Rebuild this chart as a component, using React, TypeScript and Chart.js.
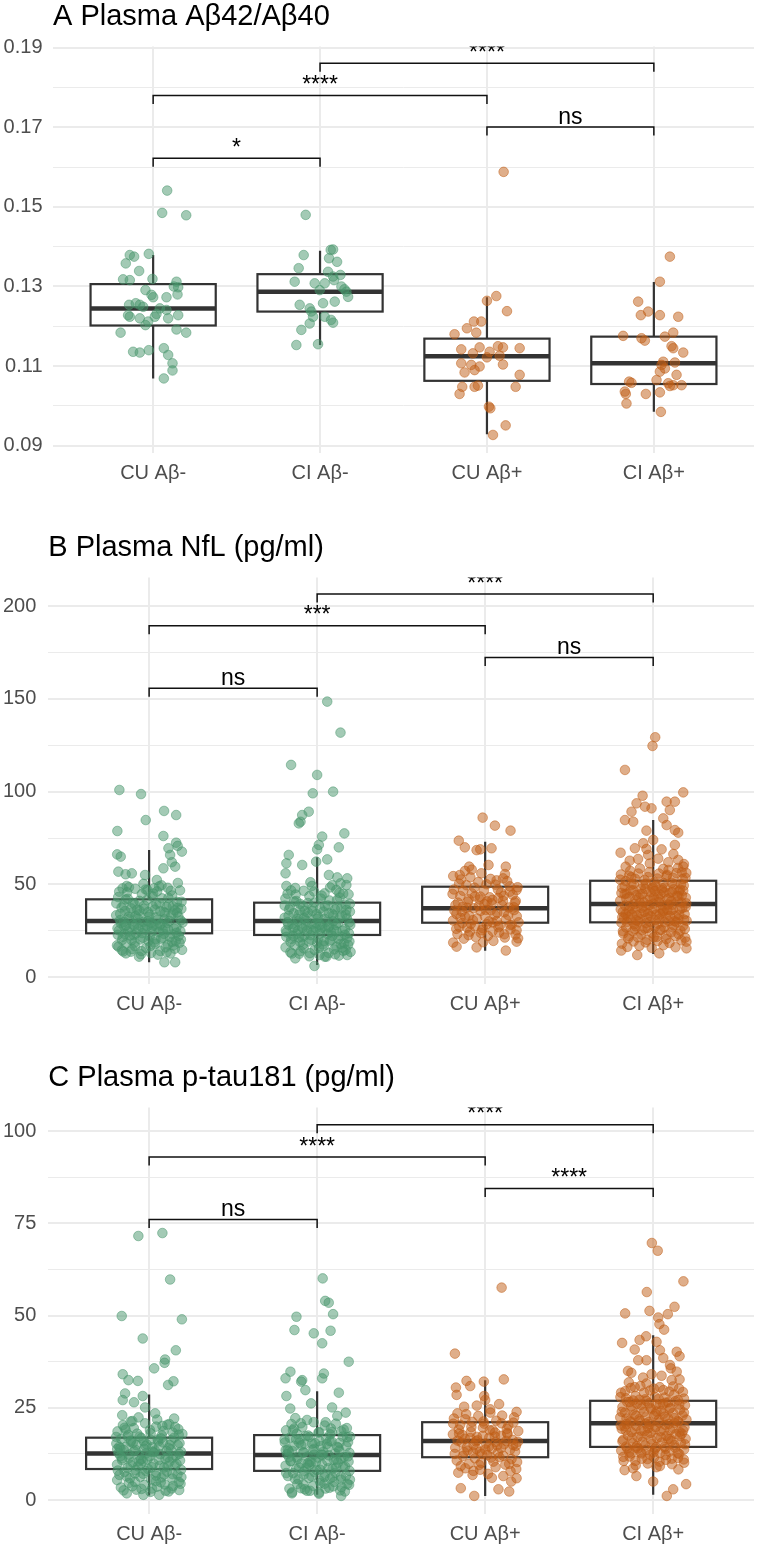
import React, { useEffect, useRef } from "react";
import { Chart, registerables } from "chart.js";
Chart.register(...registerables);

const FONT = "'Liberation Sans', Arial, Helvetica, sans-serif";

// ---------- shared ----------
const categories = ["CU Aβ-", "CI Aβ-", "CU Aβ+", "CI Aβ+"];
const GREEN = [72, 150, 108];
const ORANGE = [192, 94, 22];
const groupColors = [GREEN, GREEN, ORANGE, ORANGE];

// ---------- Panel A : Aβ42/Aβ40 ----------
const titleA = "A Plasma Aβ42/Aβ40";
const yRangeA = [0.088166, 0.1903];
const yMajorA = [0.09, 0.11, 0.13, 0.15, 0.17, 0.19];
const yLabelsA = ["0.09", "0.11", "0.13", "0.15", "0.17", "0.19"];
const yMinorA = [0.1, 0.12, 0.14, 0.16, 0.18];
// [lower whisker, q1, median, q3, upper whisker]
const boxA = [
  [0.1069, 0.1202, 0.1245, 0.1306, 0.1379],
  [0.1153, 0.1237, 0.1287, 0.1331, 0.139],
  [0.0929, 0.1063, 0.1125, 0.1169, 0.1273],
  [0.0985, 0.1055, 0.1107, 0.1174, 0.1311],
];
const bracketsA: [number, number, number, string][] = [
  [1, 2, 0.1622, "*"],
  [1, 3, 0.178, "****"],
  [2, 4, 0.1861, "****"],
  [3, 4, 0.1701, "ns"],
];
const aCUneg = [[0.084,0.1541],[0.054,0.1485],[0.198,0.1479],[-0.14,0.1379],[-0.114,0.1375],[-0.164,0.1358],[-0.026,0.1382],[-0.084,0.1339],[-0.18,0.1318],[-0.14,0.1316],[-0.004,0.1319],[-0.046,0.1291],[-0.01,0.1279],[0.0,0.1273],[0.14,0.1312],[0.15,0.1298],[0.124,0.13],[0.146,0.128],[0.08,0.1273],[-0.144,0.1254],[-0.104,0.1258],[-0.08,0.1254],[-0.06,0.1249],[-0.15,0.1228],[-0.14,0.1224],[-0.08,0.122],[-0.046,0.1203],[-0.03,0.1212],[0.01,0.1224],[0.02,0.1231],[0.04,0.1245],[0.08,0.1241],[0.09,0.122],[0.15,0.1228],[0.14,0.1192],[0.198,0.1184],[-0.195,0.1184],[-0.12,0.1136],[-0.08,0.1134],[-0.026,0.114],[0.064,0.1145],[0.09,0.1128],[0.116,0.1107],[0.116,0.1089],[0.064,0.1069]];
const aCIneg = [[-0.086,0.148],[-0.098,0.1379],[-0.128,0.1346],[-0.152,0.1312],[-0.032,0.1308],[-0.002,0.1291],[0.028,0.1308],[0.064,0.1392],[0.078,0.1393],[0.054,0.1371],[0.102,0.1362],[0.048,0.1337],[0.078,0.1325],[0.122,0.1329],[0.084,0.1316],[0.128,0.13],[0.158,0.1287],[0.168,0.1274],[0.146,0.1293],[-0.122,0.1254],[-0.062,0.1245],[-0.052,0.1237],[0.018,0.1258],[0.088,0.1262],[-0.042,0.1224],[0.028,0.1224],[0.066,0.1216],[0.078,0.1209],[-0.062,0.1207],[-0.112,0.1191],[-0.142,0.1153],[-0.012,0.1155]];
const aCUpos = [[0.1,0.1588],[0.056,0.1276],[0.0,0.1264],[0.12,0.1238],[-0.12,0.1195],[-0.078,0.1212],[-0.034,0.1212],[-0.064,0.1184],[-0.194,0.118],[-0.154,0.1142],[-0.044,0.1147],[0.016,0.1136],[0.066,0.115],[0.096,0.1147],[0.196,0.1145],[-0.084,0.1132],[0.0,0.1122],[0.076,0.1126],[-0.154,0.1107],[-0.094,0.1103],[-0.044,0.1099],[0.096,0.1104],[-0.134,0.1084],[-0.074,0.109],[0.196,0.1078],[-0.148,0.1048],[-0.074,0.1048],[-0.054,0.1051],[0.172,0.1048],[-0.164,0.103],[0.012,0.0998],[0.02,0.0994],[0.112,0.0951],[0.036,0.0927]];
const aCIpos = [[0.096,0.1375],[0.036,0.1312],[-0.094,0.1262],[-0.078,0.1228],[-0.034,0.1237],[0.036,0.1228],[0.146,0.1224],[-0.184,0.1176],[-0.074,0.117],[-0.054,0.1164],[0.066,0.1174],[0.116,0.1184],[0.106,0.115],[0.116,0.1145],[0.176,0.1134],[0.056,0.1111],[0.046,0.1103],[0.066,0.1094],[0.126,0.1109],[0.036,0.1086],[0.136,0.1078],[-0.148,0.1061],[-0.134,0.1058],[-0.174,0.1036],[-0.168,0.103],[-0.164,0.1006],[-0.048,0.103],[0.036,0.1034],[0.016,0.1065],[0.086,0.1057],[0.116,0.1052],[0.166,0.1052],[0.096,0.105],[0.042,0.0985]];

// ---------- Panel B : NfL ----------
const titleB = "B Plasma NfL (pg/ml)";
const yRangeB = [-3.61, 215.35];
const yMajorB = [0, 50, 100, 150, 200];
const yLabelsB = ["0", "50", "100", "150", "200"];
const yMinorB = [25, 75, 125, 175];
const boxB = [
  [8.1, 23.7, 30.3, 42.0, 68.6],
  [6.6, 22.8, 30.3, 40.2, 64.6],
  [14.3, 29.4, 37.2, 48.8, 73.0],
  [12.6, 29.6, 39.5, 52.0, 84.7],
];
const bracketsB: [number, number, number, string][] = [
  [1, 2, 155.7, "ns"],
  [1, 3, 189.4, "***"],
  [2, 4, 206.5, "****"],
  [3, 4, 172.2, "ns"],
];
const bCUneg = [[-0.177,100.9],[-0.048,98.7],[-0.02,84.7],[0.089,89.6],[0.161,87.4],[-0.189,78.8],[0.085,76.1],[-0.19,66.2],[-0.169,65.0],[0.161,72.5],[0.115,69.5],[0.195,67.7],[0.125,65.9],[0.085,58.7],[0.155,59.6],[-0.183,56.9],[-0.103,56.0],[-0.024,55.1],[0.046,52.4],[0.091,8.1],[0.155,8.1],[-0.183,16.5],[-0.138,12.9],[-0.06,11.1],[0.135,62.0],[0.17,70.8],[-0.14,55.5],[0.06,49.0],[0.03,48.0],[-0.01,47.0],[-0.12,48.5],
[-0.184,43.2],[-0.152,38.7],[-0.131,45.8],[-0.097,40.1],[-0.071,36.4],[-0.043,44.9],[-0.012,41.7],[0.021,38.2],[0.048,46.3],[0.077,42.5],[0.103,37.8],[0.137,44.1],[0.166,40.6],[0.192,36.9],
[-0.196,33.4],[-0.168,29.1],[-0.143,35.7],[-0.118,31.2],[-0.089,27.6],[-0.062,33.9],[-0.034,29.8],[-0.007,35.1],[0.016,26.9],[0.041,32.3],[0.069,28.7],[0.094,34.6],[0.121,30.4],[0.148,26.2],[0.174,32.8],[0.199,29.5],
[-0.179,25.3],[-0.157,21.8],[-0.126,24.7],[-0.104,19.9],[-0.078,23.6],[-0.052,20.4],[-0.026,25.9],[0.004,22.1],[0.031,18.8],[0.057,24.3],[0.083,21.2],[0.112,17.6],[0.139,23.1],[0.158,19.4],[0.186,24.8],
[-0.191,17.2],[-0.162,14.6],[-0.135,18.3],[-0.109,13.8],[-0.083,16.7],[-0.049,12.4],[-0.018,15.8],[0.011,13.1],[0.037,17.9],[0.066,14.2],[0.098,16.1],[0.127,12.8],[0.153,15.4],[0.181,18.6],
[-0.173,30.8],[-0.148,27.3],[-0.121,32.6],[-0.094,28.4],[-0.066,31.5],[-0.038,26.7],[-0.009,30.2],[0.026,27.8],[0.053,31.1],[0.081,25.4],[0.108,29.3],[0.132,33.2],[0.163,27.1],[0.188,30.6],
[-0.164,37.6],[-0.139,41.9],[-0.113,34.8],[-0.086,39.3],[-0.057,35.9],[-0.029,38.6],[0.002,33.7],[0.034,36.5],[0.062,39.8],[0.089,35.2],[0.117,38.9],[0.144,34.3],[0.171,37.4],
[-0.186,22.9],[-0.146,23.4],[-0.092,22.6],[-0.041,23.8],[0.013,29.4],[0.072,20.8],[0.124,21.7],[0.176,22.3],[-0.118,26.1],[0.046,27.2],[-0.003,19.6],[0.097,26.8],[-0.069,28.9],[0.152,36.1],[-0.021,47.3],[0.111,48.2],[-0.158,47.9],[0.184,46.8],
[-0.195,39.8],[-0.172,34.2],[-0.149,29.9],[-0.127,42.3],[-0.106,37.1],[-0.081,33.0],[-0.058,41.2],[-0.031,36.8],[-0.004,32.5],[0.019,43.6],[0.043,39.4],[0.067,35.6],[0.092,31.2],[0.115,42.8],[0.141,38.3],[0.167,34.9],[0.193,40.7],
[-0.188,26.4],[-0.161,20.1],[-0.137,27.9],[-0.112,22.5],[-0.087,18.7],[-0.063,26.2],[-0.036,21.3],[-0.011,27.4],[0.015,24.6],[0.038,20.6],[0.064,28.1],[0.088,23.4],[0.113,25.7],[0.137,19.1],[0.163,24.0],[0.189,20.4],
[-0.178,46.1],[-0.133,49.2],[-0.083,47.7],[-0.034,50.3],[0.024,45.1],[0.074,49.5],[0.129,46.6],[0.171,50.8],[-0.154,13.9],[-0.101,15.2],[-0.046,14.1],[0.008,16.9],[0.052,12.2],[0.104,13.5],[0.144,17.1],[0.196,14.8]];
const bCIneg = [[-0.155,114.4],[0.0,109.0],[-0.026,99.1],[0.095,100.0],[-0.05,89.2],[-0.089,87.4],[-0.099,83.8],[-0.109,82.9],[0.03,75.8],[0.162,77.5],[0.129,70.0],[0.01,71.3],[0.0,68.9],[-0.169,65.9],[-0.183,61.4],[-0.089,60.5],[0.06,63.5],[-0.006,62.3],[-0.188,56.0],[-0.183,49.2],[0.179,53.3],[0.139,50.6],[0.07,55.1],[0.06,148.5],[0.139,131.8],[-0.016,6.1],[-0.13,10.2],[0.179,12.0],[0.17,14.7],[0.045,11.1],[0.12,53.8],[0.09,49.6],[-0.04,51.2],
[-0.189,42.4],[-0.161,37.9],[-0.128,44.6],[-0.101,39.5],[-0.074,35.8],[-0.046,43.7],[-0.015,40.3],[0.018,37.1],[0.044,45.2],[0.073,41.4],[0.106,36.6],[0.134,43.0],[0.169,39.2],[0.195,35.4],
[-0.193,32.1],[-0.171,28.3],[-0.14,34.5],[-0.115,30.1],[-0.087,26.4],[-0.059,32.8],[-0.031,28.5],[-0.004,34.0],[0.019,25.8],[0.044,31.4],[0.071,27.5],[0.097,33.3],[0.124,29.2],[0.151,25.1],[0.177,31.7],[0.197,28.2],
[-0.182,24.2],[-0.154,20.7],[-0.123,23.5],[-0.101,18.9],[-0.075,22.4],[-0.049,19.3],[-0.023,24.8],[0.007,21.0],[0.034,17.7],[0.06,23.2],[0.086,20.1],[0.115,16.5],[0.142,22.0],[0.161,18.3],[0.189,23.7],
[-0.188,16.1],[-0.159,13.5],[-0.132,17.2],[-0.106,12.7],[-0.08,15.6],[-0.046,11.3],[-0.015,14.7],[0.014,12.0],[0.04,16.8],[0.069,13.1],[0.101,15.0],[0.13,11.7],[0.156,14.3],[0.184,17.5],
[-0.176,29.7],[-0.145,26.2],[-0.118,31.5],[-0.091,27.3],[-0.063,30.4],[-0.035,25.6],[-0.006,29.1],[0.029,26.7],[0.056,30.0],[0.084,24.3],[0.111,28.2],[0.135,32.1],[0.166,26.0],[0.191,29.5],
[-0.167,36.5],[-0.136,40.8],[-0.11,33.7],[-0.083,38.2],[-0.054,34.8],[-0.026,37.5],[0.005,32.6],[0.037,35.4],[0.065,38.7],[0.092,34.1],[0.12,37.8],[0.147,33.2],[0.174,36.3],
[-0.183,21.8],[-0.143,22.3],[-0.089,21.5],[-0.038,22.7],[0.016,28.3],[0.075,19.7],[0.127,20.6],[0.179,21.2],[-0.115,25.0],[0.049,26.1],[0.0,18.5],[0.1,25.7],[-0.066,27.8],[0.155,45.0],[-0.018,46.2],[0.114,47.1],[-0.155,46.8],[0.187,44.7],
[-0.193,38.6],[-0.17,33.1],[-0.147,28.8],[-0.124,41.1],[-0.103,36.0],[-0.078,31.9],[-0.055,40.0],[-0.028,35.7],[-0.001,31.4],[0.022,42.4],[0.046,38.3],[0.07,34.5],[0.095,30.1],[0.118,41.6],[0.144,37.2],[0.17,33.8],[0.195,39.6],
[-0.186,25.3],[-0.158,19.0],[-0.134,26.8],[-0.109,21.4],[-0.084,17.6],[-0.06,25.1],[-0.033,20.2],[-0.008,26.3],[0.018,23.5],[0.041,19.5],[0.067,27.0],[0.091,22.3],[0.116,24.6],[0.14,18.0],[0.166,22.9],[0.192,19.3],
[-0.176,45.0],[-0.13,48.1],[-0.08,46.6],[-0.031,49.2],[0.027,44.0],[0.077,48.4],[0.132,45.5],[0.174,49.7],[-0.151,12.8],[-0.098,14.1],[-0.043,13.0],[0.011,15.8],[0.055,11.1],[0.107,12.4],[0.147,16.0],[0.199,13.7]];
const bCUpos = [[-0.015,86.0],[0.058,81.7],[0.151,79.0],[-0.157,73.6],[-0.121,70.0],[-0.051,68.5],[0.038,69.5],[-0.029,68.9],[0.123,59.6],[-0.095,59.6],[-0.19,54.5],[-0.151,55.1],[-0.023,56.0],[0.107,53.3],[0.187,47.0],[-0.19,18.7],[-0.17,16.5],[-0.051,16.1],[0.123,14.4],[0.187,19.2],[0.196,21.0],[-0.08,58.0],[0.02,60.5],[-0.12,57.3],
[-0.186,47.3],[-0.148,43.8],[-0.112,49.6],[-0.079,45.2],[-0.041,51.3],[-0.008,46.7],[0.027,43.1],[0.061,49.9],[0.094,45.6],[0.131,51.8],[0.164,44.4],[0.193,48.5],
[-0.177,38.9],[-0.139,35.4],[-0.103,40.7],[-0.068,37.2],[-0.033,41.9],[0.004,36.3],[0.039,39.8],[0.072,34.7],[0.106,41.2],[0.142,37.6],[0.177,40.3],
[-0.191,30.6],[-0.154,27.2],[-0.118,32.4],[-0.085,28.8],[-0.049,31.7],[-0.014,26.5],[0.022,30.1],[0.057,33.6],[0.089,27.9],[0.124,31.2],[0.158,28.4],[0.188,32.9],
[-0.165,23.3],[-0.127,20.8],[-0.091,24.6],[-0.056,21.7],[-0.019,25.4],[0.016,22.3],[0.049,19.6],[0.083,24.1],[0.117,21.4],[0.151,25.8],[0.181,23.0],
[-0.171,34.1],[-0.133,38.0],[-0.096,33.2],[-0.061,43.6],[-0.027,35.8],[0.011,40.9],[0.045,29.5],[0.078,42.7],[0.113,35.0],[0.147,46.1],[-0.144,52.7],[0.068,52.2],[-0.004,39.4],[0.172,36.2],[-0.107,26.7],
[-0.194,44.9],[-0.162,40.2],[-0.131,46.6],[-0.098,42.0],[-0.064,48.3],[-0.029,43.5],[0.008,50.1],[0.043,41.7],[0.076,47.3],[0.11,43.9],[0.146,49.0],[0.182,41.1],
[-0.183,35.9],[-0.147,32.1],[-0.109,37.5],[-0.073,30.8],[-0.037,38.4],[-0.002,32.9],[0.033,36.1],[0.069,30.3],[0.101,38.8],[0.137,33.5],[0.171,37.7],[0.199,29.6],
[-0.172,26.1],[-0.136,29.2],[-0.099,22.7],[-0.062,27.4],[-0.026,23.9],[0.009,28.6],[0.044,24.9],[0.079,27.0],[0.114,23.2],[0.149,28.1],[0.187,25.3],
[-0.155,50.5],[-0.088,53.9],[0.032,53.0],[0.118,55.6],[-0.012,18.9]];
const bCIpos = [[-0.168,111.7],[0.179,99.6],[-0.063,97.8],[-0.099,93.7],[-0.049,91.9],[-0.01,91.0],[0.08,94.6],[0.129,94.6],[0.099,90.1],[-0.129,89.2],[-0.168,84.7],[-0.119,83.8],[0.06,85.6],[0.08,82.0],[0.129,79.3],[0.149,77.9],[-0.04,79.0],[0.0,74.0],[0.129,71.3],[-0.194,67.1],[-0.109,69.5],[-0.059,72.2],[0.05,68.9],[-0.03,65.9],[-0.164,59.6],[0.149,63.2],[0.179,59.6],[0.036,12.9],[-0.095,12.0],[-0.19,14.4],[0.198,15.6],[0.198,19.2],[0.012,129.3],[-0.004,124.6],[0.09,62.0],[-0.14,62.8],[0.17,56.5],[0.06,58.4],
[-0.192,55.4],[-0.163,51.8],[-0.137,57.3],[-0.108,53.1],[-0.079,58.6],[-0.051,52.4],[-0.023,56.7],[0.006,51.2],[0.034,55.9],[0.063,50.7],[0.091,57.8],[0.118,53.6],[0.147,58.9],[0.176,52.9],[0.197,56.2],
[-0.185,48.2],[-0.158,45.1],[-0.129,49.7],[-0.101,44.3],[-0.072,47.6],[-0.044,50.4],[-0.016,45.8],[0.013,49.1],[0.041,44.6],[0.069,48.4],[0.098,45.5],[0.126,50.1],[0.153,46.3],[0.182,49.4],
[-0.196,41.3],[-0.167,38.6],[-0.141,43.2],[-0.112,39.4],[-0.084,42.7],[-0.057,38.1],[-0.028,41.8],[0.001,39.7],[0.029,43.5],[0.057,38.8],[0.085,42.1],[0.114,39.1],[0.141,43.8],[0.169,40.2],[0.194,42.9],
[-0.181,35.2],[-0.152,32.7],[-0.124,36.9],[-0.095,33.4],[-0.067,37.3],[-0.039,32.1],[-0.011,35.6],[0.018,33.8],[0.046,37.0],[0.074,32.5],[0.103,35.9],[0.131,33.1],[0.159,36.6],[0.187,34.0],
[-0.189,29.4],[-0.161,26.8],[-0.133,30.9],[-0.104,27.5],[-0.076,31.2],[-0.048,26.3],[-0.02,29.8],[0.009,27.1],[0.037,31.6],[0.066,26.9],[0.094,30.3],[0.122,28.0],[0.15,31.4],[0.178,27.7],[0.199,30.5],
[-0.178,23.6],[-0.149,20.9],[-0.121,24.8],[-0.092,21.5],[-0.064,25.3],[-0.036,20.2],[-0.008,23.9],[0.021,21.8],[0.049,25.6],[0.078,20.6],[0.106,24.2],[0.134,22.1],[0.162,25.1],[0.19,21.3],
[-0.186,18.1],[-0.154,16.4],[-0.117,19.3],[-0.082,17.0],[-0.045,18.8],[-0.009,15.9],[0.026,19.6],[0.061,17.3],[0.097,18.5],[0.133,16.2],[0.168,19.9],
[-0.17,44.9],[-0.118,46.8],[-0.063,45.0],[-0.005,47.9],[0.052,46.9],[0.108,41.0],[0.16,47.2],[-0.146,35.9],[-0.088,30.1],[-0.03,34.4],[0.027,28.9],[0.084,36.3],[0.14,29.7],[0.193,37.8],[-0.174,31.8],[-0.112,28.6],[-0.055,40.3],[0.003,43.0],[0.058,34.8],[0.112,45.9],[0.171,44.1],[-0.13,53.9],[-0.02,61.3],[0.08,54.5],[0.183,61.0],[-0.09,63.7],[0.12,66.4],[-0.04,69.1],[0.03,63.9],
[-0.197,52.6],[-0.17,49.0],[-0.144,54.7],[-0.116,50.3],[-0.088,55.9],[-0.06,49.8],[-0.031,54.0],[-0.003,48.5],[0.025,53.2],[0.053,48.0],[0.082,55.2],[0.11,50.9],[0.138,56.1],[0.166,50.2],[0.192,53.6],
[-0.189,45.4],[-0.16,42.4],[-0.133,46.9],[-0.104,41.6],[-0.076,44.9],[-0.047,47.6],[-0.019,43.0],[0.01,46.4],[0.037,41.9],[0.066,45.7],[0.094,42.8],[0.122,47.4],[0.15,43.6],[0.179,46.7],
[-0.193,36.6],[-0.164,34.0],[-0.136,38.5],[-0.108,35.8],[-0.08,39.9],[-0.052,35.3],[-0.024,38.9],[0.005,36.8],[0.033,40.5],[0.061,35.9],[0.089,39.2],[0.117,36.3],[0.145,40.9],[0.173,37.3],[0.197,39.8],
[-0.184,32.3],[-0.156,29.8],[-0.128,33.9],[-0.099,30.6],[-0.071,34.4],[-0.043,29.2],[-0.015,32.9],[0.014,30.9],[0.042,34.1],[0.07,29.6],[0.099,33.0],[0.127,30.2],[0.155,33.7],[0.183,31.1],
[-0.18,24.8],[-0.145,22.2],[-0.108,26.1],[-0.07,23.0],[-0.033,26.6],[0.003,21.6],[0.04,25.4],[0.077,22.6],[0.114,26.9],[0.151,23.3],[0.188,26.0]];

// ---------- Panel C : p-tau181 ----------
const titleC = "C Plasma p-tau181 (pg/ml)";
const yRangeC = [-3.8, 106.45];
const yMajorC = [0, 25, 50, 75, 100];
const yLabelsC = ["0", "25", "50", "75", "100"];
const yMinorC = [12.5, 37.5, 62.5, 87.5];
const boxC = [
  [1.2, 8.4, 12.6, 16.9, 28.6],
  [1.4, 7.9, 12.2, 17.6, 29.5],
  [1.1, 11.6, 16.0, 21.1, 32.5],
  [1.4, 14.4, 20.8, 26.9, 44.7],
];
const bracketsC: [number, number, number, string][] = [
  [1, 2, 76.1, "ns"],
  [1, 3, 93.0, "****"],
  [2, 4, 101.8, "****"],
  [3, 4, 84.5, "****"],
];
const cCUneg = [[-0.064,71.6],[0.079,72.4],[0.125,59.8],[-0.163,49.9],[0.195,49.0],[-0.038,43.8],[0.159,40.6],[0.095,38.1],[0.092,37.2],[0.03,35.7],[-0.157,34.1],[-0.123,32.5],[-0.067,32.3],[0.145,32.2],[0.113,31.2],[-0.143,28.9],[-0.038,28.2],[-0.157,27.1],[-0.024,25.1],[0.036,23.5],[-0.16,23.0],[0.149,22.1],[-0.133,1.8],[-0.034,1.4],[0.06,1.4],[0.116,2.3],[0.179,2.7],[-0.19,5.4],[-0.09,26.5],[0.12,20.6],[-0.11,21.3],
[-0.188,18.6],[-0.156,20.3],[-0.124,17.7],[-0.091,19.5],[-0.057,17.2],[-0.024,20.8],[0.009,18.1],[0.042,19.9],[0.075,17.5],[0.108,20.4],[0.141,18.3],[0.174,19.2],[0.198,17.9],
[-0.195,15.3],[-0.166,16.6],[-0.138,14.4],[-0.107,16.1],[-0.076,14.9],[-0.046,16.8],[-0.015,15.1],[0.018,14.3],[0.051,16.4],[0.083,15.6],[0.116,14.1],[0.149,16.9],[0.181,15.4],
[-0.182,12.7],[-0.151,13.6],[-0.119,11.4],[-0.088,13.2],[-0.059,12.1],[-0.029,13.9],[0.003,11.8],[0.034,13.4],[0.066,12.4],[0.097,11.2],[0.129,13.7],[0.158,12.0],[0.189,13.1],
[-0.191,9.6],[-0.161,10.8],[-0.129,8.7],[-0.098,10.2],[-0.067,9.1],[-0.037,10.6],[-0.006,8.4],[0.026,9.9],[0.058,10.9],[0.089,8.8],[0.121,10.4],[0.152,9.3],[0.184,10.7],
[-0.177,6.8],[-0.146,7.6],[-0.114,5.9],[-0.083,7.2],[-0.052,6.3],[-0.02,7.9],[0.011,5.6],[0.043,7.4],[0.074,6.1],[0.106,7.7],[0.138,5.8],[0.169,6.9],
[-0.168,3.4],[-0.121,4.6],[-0.076,2.8],[-0.028,4.1],[0.017,3.1],[0.069,4.8],[0.098,2.5],[0.142,3.8],[0.187,4.4],
[-0.17,11.9],[-0.11,15.8],[-0.05,9.8],[0.01,16.3],[0.06,14.6],[0.11,9.1],[0.17,14.9],[-0.14,19.1],[-0.02,12.6],[0.085,18.7],[-0.08,8.1],[0.14,11.5],[-0.19,13.8],[0.04,6.6],[-0.1,21.4],[0.19,8.2],
[-0.196,17.1],[-0.171,14.0],[-0.146,19.6],[-0.121,12.3],[-0.097,15.5],[-0.071,18.0],[-0.047,11.0],[-0.021,14.6],[0.005,19.0],[0.029,12.9],[0.055,15.9],[0.079,20.1],[0.104,13.3],[0.13,16.2],[0.155,19.8],[0.18,12.5],
[-0.186,8.0],[-0.16,11.3],[-0.135,6.4],[-0.11,9.5],[-0.085,4.9],[-0.06,10.6],[-0.036,7.1],[-0.01,11.0],[0.015,8.9],[0.04,5.1],[0.064,9.3],[0.088,6.9],[0.113,11.6],[0.139,7.0],[0.163,9.8],[0.192,6.2],
[-0.178,14.4],[-0.128,17.2],[-0.081,13.6],[-0.033,16.0],[0.021,13.0],[0.071,16.7],[0.123,14.9],[0.176,17.7],[-0.152,2.6],[-0.1,3.7],[-0.045,3.0],[0.008,2.2],[0.047,3.6],[0.093,4.2],[0.134,3.1],[0.177,4.9],[-0.063,22.4],[0.048,21.8]];
const cCIneg = [[0.069,53.5],[0.095,50.4],[-0.123,49.7],[-0.135,46.1],[0.08,45.9],[-0.02,45.2],[0.03,42.5],[0.188,37.5],[-0.159,34.8],[-0.188,33.0],[0.04,34.3],[0.03,33.0],[-0.089,32.5],[-0.095,32.1],[-0.07,29.8],[0.129,29.1],[-0.183,28.2],[-0.036,26.2],[0.089,25.1],[-0.16,24.8],[0.17,23.7],[-0.06,2.5],[0.01,2.0],[0.143,1.1],[0.165,2.3],[-0.15,1.8],[0.033,60.1],[0.048,54.0],[0.12,22.8],[-0.13,22.2],
[-0.185,18.9],[-0.153,20.6],[-0.121,18.0],[-0.088,19.8],[-0.054,17.5],[-0.021,21.1],[0.012,18.4],[0.045,20.2],[0.078,17.8],[0.111,20.7],[0.144,18.6],[0.177,19.5],[0.196,17.2],
[-0.192,15.6],[-0.163,16.9],[-0.135,14.7],[-0.104,16.4],[-0.073,15.2],[-0.043,17.1],[-0.012,15.4],[0.021,14.6],[0.054,16.7],[0.086,15.9],[0.119,14.4],[0.152,17.2],[0.184,15.7],
[-0.179,12.4],[-0.148,13.3],[-0.116,11.1],[-0.085,12.9],[-0.056,11.8],[-0.026,13.6],[0.006,11.5],[0.037,13.1],[0.069,12.1],[0.1,10.9],[0.132,13.4],[0.161,11.7],[0.192,12.8],
[-0.188,9.3],[-0.158,10.5],[-0.126,8.4],[-0.095,9.9],[-0.064,8.8],[-0.034,10.3],[-0.003,8.1],[0.029,9.6],[0.061,10.6],[0.092,8.5],[0.124,10.1],[0.155,9.0],[0.187,10.4],
[-0.174,6.5],[-0.143,7.3],[-0.111,5.6],[-0.08,6.9],[-0.049,6.0],[-0.017,7.6],[0.014,5.3],[0.046,7.1],[0.077,5.8],[0.109,7.4],[0.141,5.5],[0.172,6.6],
[-0.165,3.1],[-0.118,4.3],[-0.073,2.9],[-0.025,3.8],[0.02,4.6],[0.072,3.3],[0.101,4.9],[0.145,3.5],[0.19,4.1],
[-0.167,11.6],[-0.107,15.5],[-0.047,9.5],[0.013,16.0],[0.063,14.3],[0.113,8.8],[0.173,14.6],[-0.137,19.4],[-0.017,12.3],[0.088,18.4],[-0.077,7.8],[0.143,11.2],[-0.187,13.5],[0.043,6.3],[-0.097,20.8],[0.193,7.9],
[-0.194,16.4],[-0.169,13.2],[-0.144,18.9],[-0.119,11.6],[-0.094,14.8],[-0.069,17.3],[-0.044,10.3],[-0.018,13.9],[0.008,18.3],[0.032,12.2],[0.058,15.2],[0.082,19.4],[0.107,12.6],[0.133,15.5],[0.158,19.1],[0.183,11.8],
[-0.184,7.3],[-0.157,10.6],[-0.132,5.7],[-0.107,8.8],[-0.082,4.2],[-0.057,9.9],[-0.033,6.4],[-0.007,10.3],[0.018,8.2],[0.043,4.4],[0.067,8.6],[0.091,6.2],[0.116,10.9],[0.142,6.3],[0.166,9.1],[0.195,5.5],
[-0.175,13.7],[-0.125,16.5],[-0.078,12.9],[-0.03,15.3],[0.024,12.3],[0.074,16.0],[0.126,14.2],[0.179,17.0],[-0.149,2.1],[-0.097,3.2],[-0.042,2.5],[0.011,1.7],[0.05,3.1],[0.096,3.7],[0.137,2.6],[0.18,4.4],[-0.06,21.7],[0.051,21.1]];
const cCUpos = [[-0.18,39.7],[0.098,57.6],[-0.111,32.3],[0.111,32.7],[-0.008,32.1],[-0.174,30.5],[-0.089,30.9],[-0.17,28.5],[-0.006,28.2],[0.0,27.1],[-0.125,25.3],[0.083,26.0],[0.187,23.9],[-0.165,23.5],[-0.065,1.1],[-0.145,3.2],[0.079,2.9],[0.143,2.3],[0.155,5.0],[0.187,5.9],[0.03,24.6],[-0.05,25.6],
[-0.186,22.1],[-0.149,20.4],[-0.113,23.3],[-0.077,21.2],[-0.041,22.8],[-0.006,20.7],[0.031,23.7],[0.066,21.5],[0.101,22.9],[0.138,20.2],[0.172,22.4],
[-0.192,17.8],[-0.157,19.1],[-0.121,16.6],[-0.085,18.5],[-0.049,17.1],[-0.013,19.6],[0.024,16.9],[0.059,18.3],[0.094,17.4],[0.129,19.3],[0.164,16.3],[0.197,18.7],
[-0.178,14.2],[-0.141,15.6],[-0.105,13.4],[-0.069,14.9],[-0.032,13.1],[0.004,15.3],[0.04,14.0],[0.076,12.8],[0.112,15.1],[0.148,13.6],[0.183,14.7],
[-0.169,10.7],[-0.133,11.9],[-0.097,9.8],[-0.061,11.3],[-0.024,10.1],[0.013,12.2],[0.049,10.4],[0.085,11.6],[0.12,9.6],[0.157,11.1],[0.19,10.3],
[-0.16,7.4],[-0.118,8.6],[-0.075,6.8],[-0.03,8.2],[0.017,7.1],[0.062,8.9],[0.108,6.5],[0.151,7.8],[0.185,8.4],
[-0.135,17.6],[-0.055,15.9],[0.045,19.0],[0.125,16.0],[-0.02,12.5],
[-0.19,20.7],[-0.155,18.0],[-0.118,21.9],[-0.082,19.8],[-0.046,16.2],[-0.01,21.3],[0.027,18.9],[0.063,15.7],[0.097,20.8],[0.133,17.9],[0.168,21.0],[0.195,15.8],
[-0.181,12.5],[-0.145,9.2],[-0.108,14.3],[-0.072,12.9],[-0.036,9.5],[0.001,13.7],[0.036,11.5],[0.072,14.8],[0.107,12.0],[0.143,9.8],[0.178,13.1],
[-0.164,16.1],[-0.126,13.0],[-0.089,16.8],[-0.052,13.9],[-0.015,17.4],[0.022,14.5],[0.058,17.2],[0.094,14.1],[0.131,18.2],[0.166,14.9],[-0.07,7.9],[0.04,6.0]];
const cCIpos = [[-0.008,69.7],[0.027,67.6],[0.18,59.3],[-0.038,56.4],[0.127,52.4],[-0.167,50.6],[-0.022,51.3],[0.087,50.4],[0.03,49.5],[0.037,47.7],[0.065,46.2],[-0.042,44.4],[-0.081,43.4],[-0.185,42.6],[0.02,42.9],[0.04,40.6],[0.157,39.0],[0.1,36.6],[0.105,35.7],[-0.089,37.9],[-0.04,37.9],[-0.15,35.0],[-0.13,34.5],[-0.01,34.1],[0.11,32.5],[0.157,32.7],[-0.04,31.6],[0.081,1.1],[0.119,2.9],[0.196,4.3],[0.0,5.0],[-0.17,8.1],[-0.1,6.5],[0.14,40.2],[-0.11,40.8],[0.06,38.5],
[-0.191,29.1],[-0.162,27.6],[-0.134,30.4],[-0.105,28.2],[-0.076,30.9],[-0.048,27.3],[-0.019,29.7],[0.01,28.0],[0.039,30.6],[0.068,27.8],[0.096,29.4],[0.125,28.6],[0.154,30.2],[0.183,27.5],
[-0.183,25.2],[-0.155,26.6],[-0.126,24.3],[-0.097,26.1],[-0.069,24.8],[-0.041,26.9],[-0.012,24.6],[0.017,25.9],[0.046,24.1],[0.074,26.4],[0.103,25.0],[0.131,26.8],[0.16,24.5],[0.189,25.7],
[-0.196,22.4],[-0.168,23.7],[-0.139,21.5],[-0.111,23.2],[-0.082,21.9],[-0.054,23.9],[-0.025,21.2],[0.004,22.8],[0.032,21.7],[0.061,23.4],[0.089,22.1],[0.118,23.6],[0.147,21.4],[0.175,22.9],[0.198,21.8],
[-0.187,19.3],[-0.158,20.6],[-0.129,18.4],[-0.101,20.1],[-0.072,18.8],[-0.044,20.7],[-0.015,18.2],[0.014,19.8],[0.043,18.6],[0.071,20.4],[0.1,19.0],[0.128,20.9],[0.157,18.5],[0.186,19.7],
[-0.179,16.3],[-0.15,17.5],[-0.121,15.4],[-0.093,17.1],[-0.064,15.8],[-0.036,17.7],[-0.007,15.2],[0.022,16.8],[0.051,15.6],[0.079,17.4],[0.108,16.0],[0.136,17.9],[0.165,15.5],[0.193,16.6],
[-0.19,13.4],[-0.161,14.5],[-0.132,12.6],[-0.104,14.2],[-0.075,12.9],[-0.047,14.8],[-0.018,12.3],[0.011,13.9],[0.04,12.7],[0.069,14.4],[0.097,13.1],[0.126,14.9],[0.155,12.5],[0.184,13.7],
[-0.176,10.6],[-0.14,11.8],[-0.104,9.4],[-0.068,11.2],[-0.032,9.9],[0.004,11.5],[0.04,9.2],[0.076,10.9],[0.112,9.7],[0.148,11.4],[0.184,10.1],
[-0.145,31.9],[-0.06,33.2],[0.05,33.7],[0.14,34.8],[-0.17,20.0],[0.02,24.0],[0.17,18.0],[-0.09,14.0],[0.09,16.5],[-0.03,19.5],[0.06,26.0],[-0.12,27.0],
[-0.195,27.9],[-0.167,29.5],[-0.139,26.6],[-0.11,30.6],[-0.082,27.2],[-0.054,29.1],[-0.025,26.2],[0.004,30.2],[0.033,27.4],[0.061,29.8],[0.09,26.5],[0.119,30.8],[0.148,27.1],[0.177,29.3],
[-0.187,23.9],[-0.159,22.1],[-0.13,25.4],[-0.102,22.8],[-0.073,25.8],[-0.045,22.4],[-0.016,25.0],[0.013,23.3],[0.041,26.0],[0.069,22.6],[0.098,24.7],[0.126,22.2],[0.155,25.9],[0.183,23.7],
[-0.193,20.2],[-0.164,18.9],[-0.136,21.1],[-0.107,19.2],[-0.079,21.4],[-0.051,18.7],[-0.022,20.5],[0.007,19.1],[0.035,21.0],[0.064,18.9],[0.092,20.6],[0.121,19.4],[0.15,21.2],[0.178,18.8],
[-0.183,15.9],[-0.154,14.0],[-0.126,16.7],[-0.098,14.6],[-0.069,17.2],[-0.041,13.6],[-0.012,16.4],[0.017,14.3],[0.045,17.0],[0.074,13.9],[0.102,16.6],[0.131,14.2],[0.16,17.3],[0.189,15.1],
[-0.178,11.7],[-0.142,12.9],[-0.106,10.6],[-0.07,12.6],[-0.034,11.1],[0.002,12.9],[0.038,10.4],[0.074,12.2],[0.11,11.2],[0.146,12.7],[0.182,11.0],[-0.12,8.6],[0.02,8.9],[0.15,8.3]];

// ---------- rendering ----------
type Spec = {
  title: string;
  yRange: number[];
  yMajor: number[];
  yLabels: string[];
  yMinor: number[];
  boxes: number[][];
  brackets: [number, number, number, string][];
  groups: number[][][];
  leftW: number;
  labelPad: number;
  top: number;
  height: number;
};

const CHART_BOTTOM = 453;

const specs: Spec[] = [
  { title: titleA, yRange: yRangeA, yMajor: yMajorA, yLabels: yLabelsA, yMinor: yMinorA, boxes: boxA, brackets: bracketsA, groups: [aCUneg, aCIneg, aCUpos, aCIpos], leftW: 53, labelPad: 10.5, top: 0, height: 531 },
  { title: titleB, yRange: yRangeB, yMajor: yMajorB, yLabels: yLabelsB, yMinor: yMinorB, boxes: boxB, brackets: bracketsB, groups: [bCUneg, bCIneg, bCUpos, bCIpos], leftW: 48.3, labelPad: 12, top: 531, height: 530 },
  { title: titleC, yRange: yRangeC, yMajor: yMajorC, yLabels: yLabelsC, yMinor: yMinorC, boxes: boxC, brackets: bracketsC, groups: [cCUneg, cCIneg, cCUpos, cCIpos], leftW: 48.3, labelPad: 12, top: 1061, height: 489 },
];

const rgba = (c: number[], a: number) => `rgba(${c[0]},${c[1]},${c[2]},${a})`;

function makeBoxPlugin(boxes: number[][]) {
  return {
    id: "boxes",
    beforeDatasetsDraw(chart: any) {
      const { ctx, scales } = chart;
      const x = scales.x, y = scales.y;
      ctx.save();
      ctx.strokeStyle = "#333333";
      boxes.forEach((b, i) => {
        const cx = x.getPixelForValue(i + 1);
        const half = x.getPixelForValue(i + 1 + 0.375) - cx;
        const [lo, q1, med, q3, hi] = b.map((v) => y.getPixelForValue(v));
        ctx.lineWidth = 2.2;
        ctx.beginPath();
        ctx.moveTo(cx, hi);
        ctx.lineTo(cx, q3);
        ctx.moveTo(cx, q1);
        ctx.lineTo(cx, lo);
        ctx.stroke();
        ctx.fillStyle = "#ffffff";
        ctx.fillRect(cx - half, q3, half * 2, q1 - q3);
        ctx.strokeRect(cx - half, q3, half * 2, q1 - q3);
        ctx.lineWidth = 4.5;
        ctx.beginPath();
        ctx.moveTo(cx - half, med);
        ctx.lineTo(cx + half, med);
        ctx.stroke();
      });
      ctx.restore();
    },
  };
}

function makeBracketPlugin(brackets: [number, number, number, string][]) {
  return {
    id: "brackets",
    afterDatasetsDraw(chart: any) {
      const { ctx, scales, chartArea } = chart;
      const x = scales.x, y = scales.y;
      ctx.save();
      ctx.beginPath();
      ctx.rect(chartArea.left, chartArea.top, chartArea.right - chartArea.left, chartArea.bottom - chartArea.top);
      ctx.clip();
      ctx.strokeStyle = "#111111";
      ctx.fillStyle = "#000000";
      ctx.lineWidth = 1.5;
      ctx.font = `23px ${FONT}`;
      ctx.textAlign = "center";
      ctx.textBaseline = "alphabetic";
      const tip = 8.5;
      brackets.forEach(([a, b, v, label]) => {
        const xa = x.getPixelForValue(a);
        const xb = x.getPixelForValue(b);
        const yy = y.getPixelForValue(v);
        ctx.beginPath();
        ctx.moveTo(xa, yy + tip);
        ctx.lineTo(xa, yy);
        ctx.lineTo(xb, yy);
        ctx.lineTo(xb, yy + tip);
        ctx.stroke();
        ctx.fillText(label, (xa + xb) / 2, yy - 3.3);
      });
      ctx.restore();
    },
  };
}

function Panel({ spec }: { spec: Spec }) {
  const ref = useRef<HTMLCanvasElement | null>(null);
  useEffect(() => {
    if (!ref.current) return;
    const isMajor = (v: number) => spec.yMajor.some((m) => Math.abs(m - v) < 1e-9);
    const allTicks = [...spec.yMajor, ...spec.yMinor].sort((a, b) => a - b);
    const chart = new Chart(ref.current, {
      type: "scatter",
      data: {
        datasets: spec.groups.map((pts, i) => ({
          data: pts.map(([dx, v]) => ({ x: i + 1 + dx, y: v })),
          backgroundColor: rgba(groupColors[i], 0.5),
          borderColor: rgba(groupColors[i], 0.5),
          borderWidth: 1,
          pointRadius: 4.8,
          pointHoverRadius: 4.8,
        })),
      },
      options: {
        animation: false,
        responsive: false,
        events: [],
        layout: { padding: { left: 0, right: 6, top: 0, bottom: 0 } },
        plugins: {
          legend: { display: false },
          tooltip: { enabled: false },
          title: {
            display: true,
            text: spec.title,
            align: "start",
            fullSize: false,
            color: "#000000",
            font: { family: FONT, size: 29, weight: "normal", lineHeight: 1.1 },
            padding: { top: 0.7, bottom: 13.9 },
          },
        },
        scales: {
          x: {
            type: "linear",
            min: 0.4,
            max: 4.6,
            afterBuildTicks: (s: any) => {
              s.ticks = [1, 2, 3, 4].map((v) => ({ value: v }));
            },
            afterFit: (s: any) => {
              s.height = spec.height - CHART_BOTTOM;
            },
            ticks: {
              autoSkip: false,
              maxRotation: 0,
              padding: 8,
              color: "#4D4D4D",
              font: { family: FONT, size: 20 },
              callback: (v: any) => categories[Math.round(v) - 1] ?? "",
            },
            grid: { color: "#EBEBEB", lineWidth: 2, drawTicks: false },
            border: { display: false },
          },
          y: {
            type: "linear",
            min: spec.yRange[0],
            max: spec.yRange[1],
            afterBuildTicks: (s: any) => {
              s.ticks = allTicks.map((v) => ({ value: v }));
            },
            afterFit: (s: any) => {
              s.width = spec.leftW;
            },
            ticks: {
              autoSkip: false,
              padding: spec.labelPad,
              color: "#4D4D4D",
              font: { family: FONT, size: 20 },
              callback: (v: any) => {
                const idx = spec.yMajor.findIndex((m) => Math.abs(m - v) < 1e-9);
                return idx >= 0 ? spec.yLabels[idx] : "";
              },
            },
            grid: {
              color: "#EBEBEB",
              lineWidth: (c: any) => (c.tick && isMajor(c.tick.value) ? 2 : 1),
              drawTicks: false,
            },
            border: { display: false },
          },
        },
      } as any,
      plugins: [makeBoxPlugin(spec.boxes), makeBracketPlugin(spec.brackets)],
    });
    return () => chart.destroy();
  }, [spec]);
  return (
    <canvas
      ref={ref}
      width={760}
      height={spec.height}
      style={{ position: "absolute", left: 0, top: spec.top, width: 760, height: spec.height, display: "block" }}
    />
  );
}

export default function App() {
  return (
    <div style={{ position: "absolute", left: 0, top: 0, width: 760, height: 1550, background: "#ffffff", overflow: "hidden" }}>
      {specs.map((s, i) => (
        <Panel key={i} spec={s} />
      ))}
    </div>
  );
}
